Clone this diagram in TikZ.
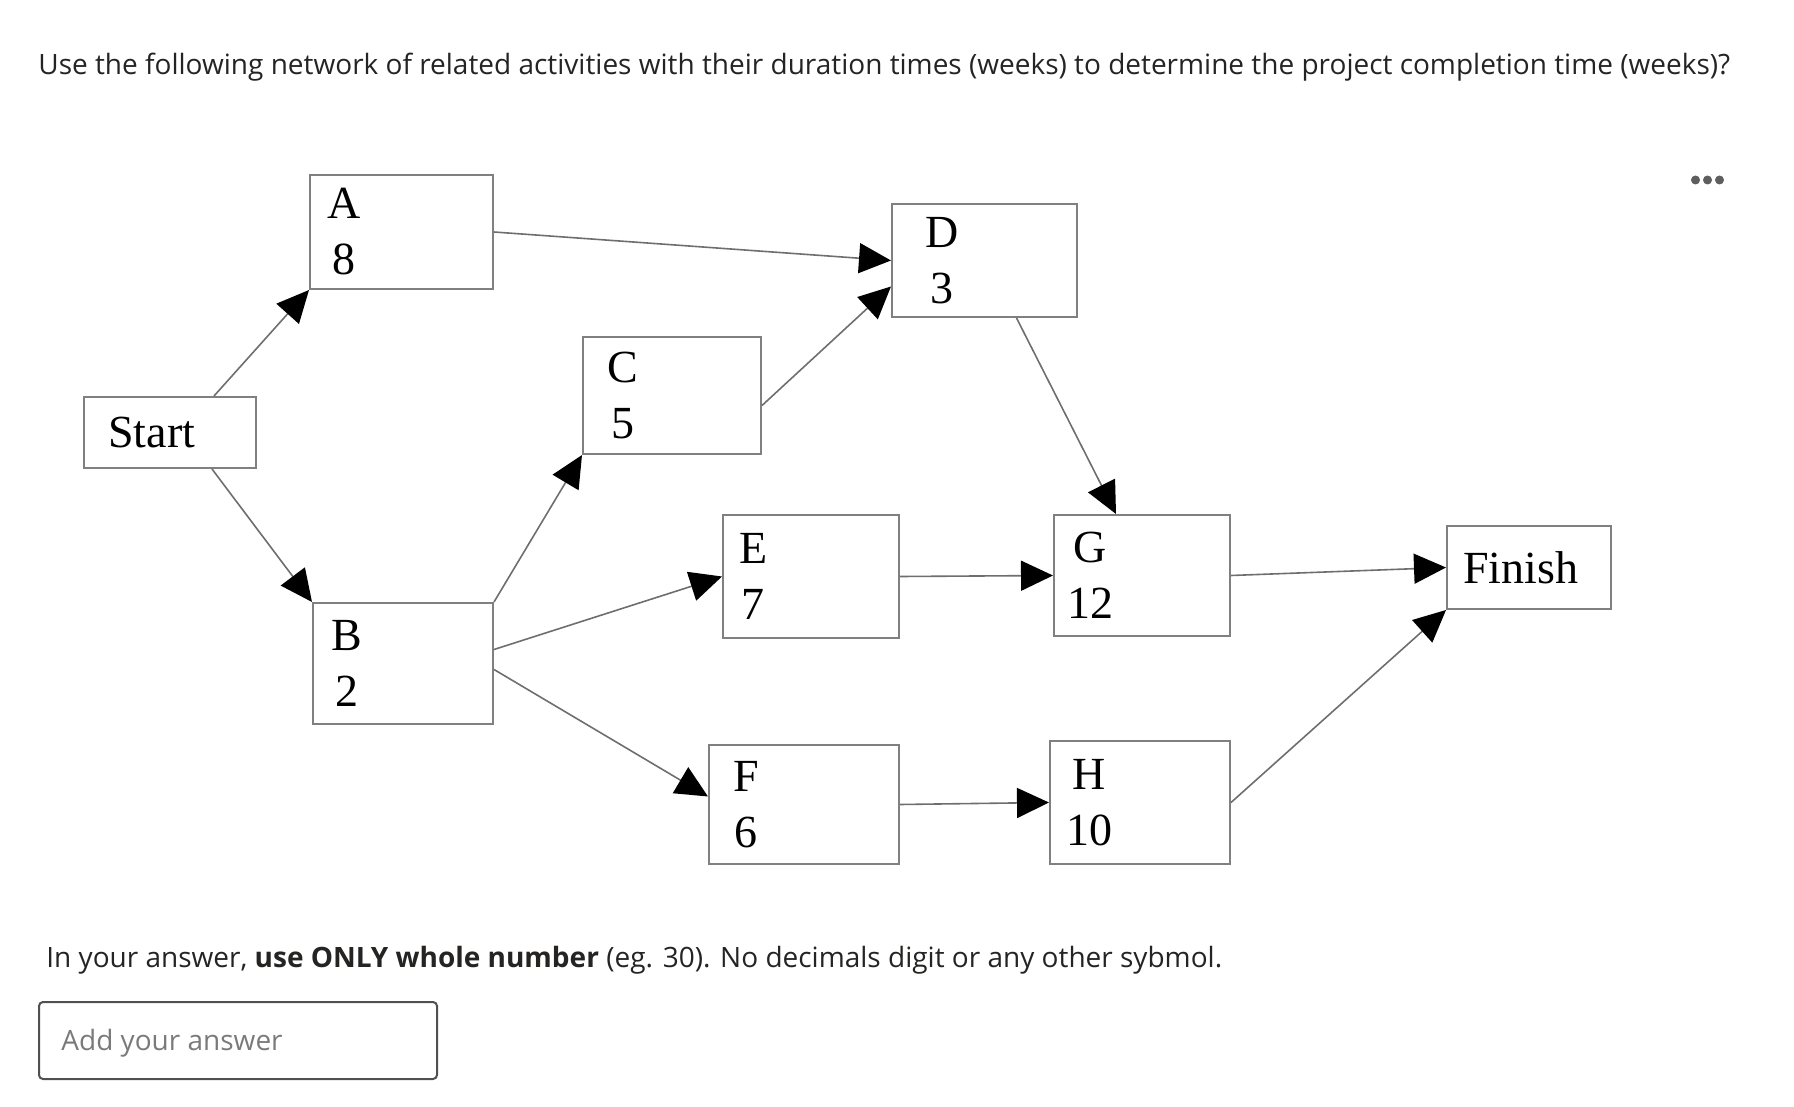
\documentclass[tikz,border=0pt]{standalone}
\usepackage{fontspec}
\setmainfont{Liberation Serif}
\newfontfamily\uifont{Open Sans}
\usetikzlibrary{positioning, arrows.meta}

\definecolor{boxline}{HTML}{808080}
\definecolor{arrowline}{HTML}{6E6E6E}
\definecolor{uitext}{HTML}{252423}
\definecolor{hintgray}{HTML}{7A7A7A}
\definecolor{dotgray}{HTML}{5E5E5E}

\begin{document}
\begin{tikzpicture}[x=0.5pt, y=-0.5pt,
    act/.style={rectangle, draw=boxline, line width=1pt},
    lbl/.style={align=center, inner sep=0pt, font=\fontsize{23}{28}\selectfont},
    link/.style={-{Triangle[length=16pt, width=15pt, color=black]}, draw=arrowline, line width=0.8pt},
    ui/.style={font=\uifont\fontsize{14}{17}\selectfont, text=uitext, inner sep=0pt, anchor=base west}
]

\useasboundingbox (0,0) rectangle (1794,1107);

% Question
\node[ui] (question) at (38,75) {Use the following network of related activities with their duration times (weeks) to determine the project completion time (weeks)?};
\foreach \dx in {0,12,24}
    \fill[dotgray] (1695.5+\dx,180) circle (4.5);

% Activities
\node[act, minimum width=86pt, minimum height=35.5pt] (start) at (170,432.5) {};
\node[act, minimum width=91.5pt, minimum height=57pt] (A) at (401.5,232) {};
\node[act, minimum width=90pt, minimum height=60.5pt] (B) at (403,663.5) {};
\node[act, minimum width=89pt, minimum height=58.5pt] (C) at (672,395.5) {};
\node[act, minimum width=92.5pt, minimum height=56.5pt] (D) at (984.5,260.5) {};
\node[act, minimum width=88pt, minimum height=61.5pt] (E) at (811,576.5) {};
\node[act, minimum width=95pt, minimum height=59.5pt] (F) at (804,804.5) {};
\node[act, minimum width=88pt, minimum height=60.5pt] (G) at (1142,575.5) {};
\node[act, minimum width=90pt, minimum height=61.5pt] (H) at (1140,802.5) {};
\node[act, minimum width=82pt, minimum height=41.5pt] (finish) at (1529,567.5) {};

% Labels
\node[lbl, right=12.5pt of start.west] (startl) {Start};
\node[lbl, right=9pt of A.west] (Al) {A\\8};
\node[lbl, right=9.5pt of B.west] (Bl) {B\\2};
\node[lbl, right=12.5pt of C.west] (Cl) {C\\5};
\node[lbl, right=17pt of D.west] (Dl) {D\\3};
\node[lbl, right=8.5pt of E.west] (El) {E\\7};
\node[lbl, right=12.5pt of F.west] (Fl) {F\\6};
\node[lbl, right=7pt of G.west] (Gl) {G\\12};
\node[lbl, right=8.5pt of H.west] (Hl) {H\\10};
\node[lbl, right=8.5pt of finish.west] (finishl) {Finish};

% Arrows
\draw[link] ([xshift=22pt]start.north) -- (A.south west);
\draw[link] ([xshift=21pt]start.south) -- (B.north west);
\draw[link] (A.east) -- (D.west);
\draw[link] ([yshift=-5pt]C.east) -- ([yshift=-13pt]D.west);
\draw[link] ([xshift=16pt]D.south) -- ([xshift=-13pt]G.north);
\draw[link] (B.north east) -- (C.south west);
\draw[link] ([yshift=7pt]B.east) -- (E.west);
\draw[link] ([yshift=-3pt]B.east) -- ([yshift=4pt]F.west);
\draw[link] (E.east) -- (G.west);
\draw[link] (F.east) -- (H.west);
\draw[link] (G.east) -- (finish.west);
\draw[link] (H.east) -- (finish.south west);

% Answer
\node[ui] (hint) at (46,967) {In your answer, \textbf{use ONLY whole number} (eg. 30). No decimals digit or any other sybmol.};
\node[draw=uitext!80, line width=1pt, rounded corners=2pt, minimum width=199pt, minimum height=38.5pt] (answer) at (238,1040.5) {};
\node[ui, text=hintgray] (placeholder) at (61,1050) {Add your answer};

\end{tikzpicture}
\end{document}
